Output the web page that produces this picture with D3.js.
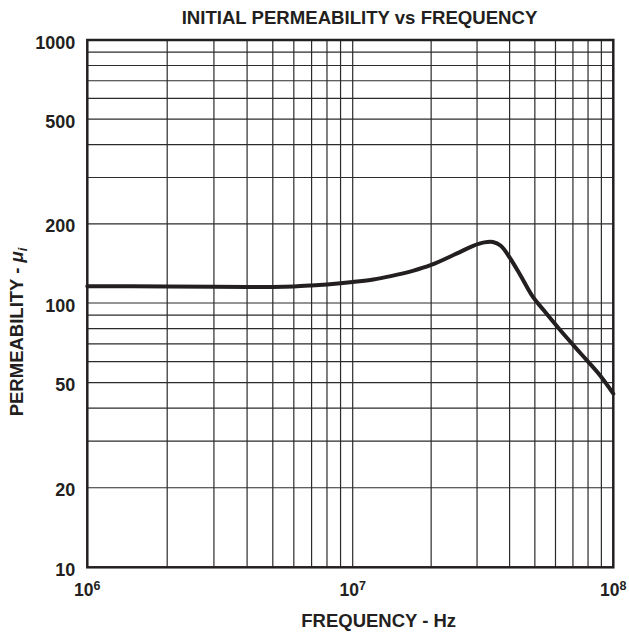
<!DOCTYPE html>
<html>
<head>
<meta charset="utf-8">
<script src="https://cdn.jsdelivr.net/npm/d3@7"></script>
<style>
  html, body { margin: 0; padding: 0; background: #fff; }
  svg { display: block; font-family: "Liberation Sans", Arial, Helvetica, sans-serif; font-weight: bold; }
</style>
</head>
<body>
<svg id="chart" width="629" height="633"></svg>
<script>
// Initial permeability curve (frequency in Hz, permeability μi)
const frequency = [1e6, 2e6, 3e6, 4e6, 5e6, 6e6, 7e6, 8e6, 9e6, 1e7, 1.2e7, 1.4e7, 1.7e7, 2e7, 2.5e7, 2.9e7, 3.2e7, 3.45e7, 3.7e7, 4e7, 4.4e7, 4.9e7, 5.4e7, 6.25e7, 7.5e7, 8.9e7, 1e8];
const permeability = [115.8, 115.6, 115.3, 115.1, 115.1, 115.6, 116.6, 117.7, 118.9, 120.2, 122.8, 126.5, 132.5, 139.5, 154, 165, 170, 170.5, 165, 149, 127.5, 106, 94, 79, 64.4, 53.2, 45.4];

// Axis labels
const xTickValues = [1e6, 1e7, 1e8];
const xTickExponents = ["6", "7", "8"];
const yTickValues = [10, 20, 50, 100, 200, 500, 1000];
const yTickLabels = ["10", "20", "50", "100", "200", "500", "1000"];

const ink = "#231f20";
const svg = d3.select("#chart");

// Log scales; one segment per decade
const x = d3.scaleLog().domain([1e6, 1e7, 1e8]).range([87.3, 352.7, 613.3]);
const y = d3.scaleLog().domain([10, 100, 1000]).range([567.3, 303, 40]);

const [x0, x1] = [x(1e6), x(1e8)];
const [y0, y1] = [y(10), y(1000)];

// Grid: every 1..9 multiple within each decade
const xGrid = [], yGrid = [];
[1e6, 1e7].forEach(d => { for (let m = 2; m <= 9; m++) xGrid.push(d * m); });
xGrid.push(1e7);
[10, 100].forEach(d => { for (let m = 2; m <= 9; m++) yGrid.push(d * m); });
yGrid.push(100);

const grid = svg.append("g").attr("stroke", "#2b2b2b").attr("stroke-width", 1.2);
grid.selectAll("line.v").data(xGrid).join("line").attr("class", "v")
  .attr("x1", d => x(d)).attr("x2", d => x(d)).attr("y1", y1).attr("y2", y0);
grid.selectAll("line.h").data(yGrid).join("line").attr("class", "h")
  .attr("y1", d => y(d)).attr("y2", d => y(d)).attr("x1", x0).attr("x2", x1);

// Frame
svg.append("rect")
  .attr("x", x0).attr("y", y1).attr("width", x1 - x0).attr("height", y0 - y1)
  .attr("fill", "none").attr("stroke", ink).attr("stroke-width", 2.5);

// Curve
const line = d3.line()
  .x((d, i) => x(frequency[i]))
  .y(d => y(d))
  .curve(d3.curveCatmullRom.alpha(0.5));
svg.append("path")
  .datum(permeability)
  .attr("d", line)
  .attr("fill", "none")
  .attr("stroke", ink)
  .attr("stroke-width", 4)
  .attr("stroke-linejoin", "round")
  .attr("stroke-linecap", "round");

// Y tick labels
const yAxis = d3.axisLeft(y)
  .tickValues(yTickValues)
  .tickFormat((d, i) => yTickLabels[i])
  .tickSize(0)
  .tickPadding(0);
const gy = svg.append("g").attr("transform", `translate(${x0 - 12},0)`).call(yAxis);
gy.select(".domain").remove();
gy.selectAll("text")
  .attr("fill", ink)
  .attr("font-size", 18)
  .attr("font-weight", "bold")
  .attr("font-family", "'Liberation Sans', Arial, sans-serif")
  .attr("dy", "0.45em");

// X tick labels: 10 with superscript exponent
const xl = svg.append("g").selectAll("text").data(xTickValues).join("text")
  .attr("x", d => x(d))
  .attr("y", 596)
  .attr("text-anchor", "middle")
  .attr("fill", ink)
  .attr("font-size", 17.5);
xl.append("tspan").text("10");
xl.append("tspan").text((d, i) => xTickExponents[i])
  .attr("font-size", 12.5).attr("dy", -6);

// Title
svg.append("text")
  .attr("x", 359.5).attr("y", 24)
  .attr("text-anchor", "middle")
  .attr("fill", ink)
  .attr("font-size", 18.6)
  .text("INITIAL PERMEABILITY vs FREQUENCY");

// X axis title
svg.append("text")
  .attr("x", 378.7).attr("y", 627)
  .attr("text-anchor", "middle")
  .attr("fill", ink)
  .attr("font-size", 18.5)
  .text("FREQUENCY - Hz");

// Y axis title
const yt = svg.append("text")
  .attr("transform", "translate(23,332) rotate(-90)")
  .attr("text-anchor", "middle")
  .attr("fill", ink)
  .attr("font-size", 18.5);
yt.append("tspan").text("PERMEABILITY - ");
yt.append("tspan").attr("font-style", "italic").text("μ");
yt.append("tspan").attr("font-style", "italic").attr("font-size", 13).attr("dy", 4).text("i");
</script>
</body>
</html>
